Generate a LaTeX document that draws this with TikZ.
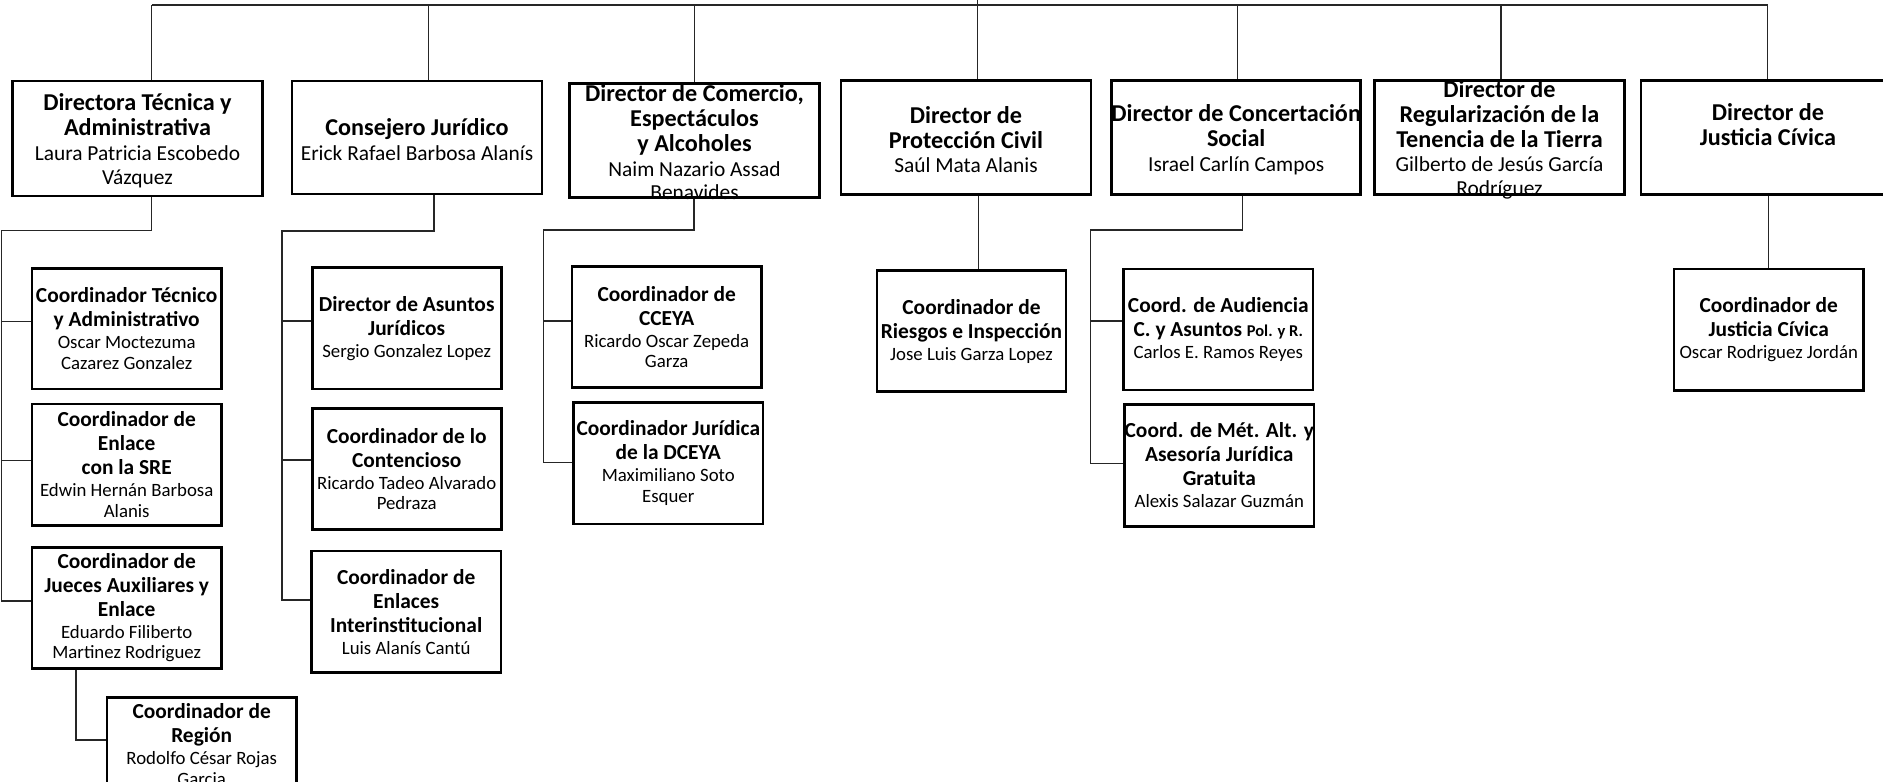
\documentclass[tikz,border=0pt]{standalone}
\usepackage{fontspec}
\setmainfont{Carlito}
\newcommand{\TT}[2]{\parbox{320pt}{\centering\fontsize{24.2}{25}\selectfont\bfseries #1\par\vspace{1.5pt}\fontsize{21.4}{23.3}\selectfont\mdseries #2\par}}
\newcommand{\ST}[2]{\parbox{320pt}{\centering\fontsize{21.4}{24}\selectfont\bfseries #1\par\vspace{1.5pt}\fontsize{18.8}{20.5}\selectfont\mdseries #2\par}}
\begin{document}
\begin{tikzpicture}[x=1pt,y=-1pt,
  box/.style={draw=black, line width=2.6pt, inner sep=0pt, fill=white},
  txt/.style={inner sep=0pt},
  ttxt/.style={inner sep=0pt, yshift=-2.2pt},
  conn/.style={draw=black!85, line width=1.3pt}]
\useasboundingbox (0,0) rectangle (1883,782);
\clip (0,0) rectangle (1883,782);
\fill[white] (0,0) rectangle (1883,782);
% ---- top level boxes
\node[box, minimum width=250pt, minimum height=115pt] (dt) at (137.5,138.5) {};
\node[box, minimum width=250pt, minimum height=113pt] (cj) at (417,137.5) {};
\node[box, minimum width=250pt, minimum height=114pt] (com) at (694.5,140.3) {};
\node[box, minimum width=250pt, minimum height=114pt] (pc) at (966,137.3) {};
\node[box, minimum width=249pt, minimum height=114pt] (conc) at (1236.2,137.3) {};
\node[box, minimum width=250pt, minimum height=114pt] (reg) at (1499.5,137.3) {};
\node[box, minimum width=254pt, minimum height=114pt] (just) at (1768,137.3) {};
% ---- second level boxes
\node[box, minimum width=189.4pt, minimum height=120.7pt] (cta) at (126.7,328.7) {};
\node[box, minimum width=189.4pt, minimum height=121.3pt] (ce) at (126.7,464.7) {};
\node[box, minimum width=189.4pt, minimum height=121pt] (jue) at (126.7,607.8) {};
\node[box, minimum width=189.3pt, minimum height=93.3pt] (regn) at (201.7,744.4) {};
\node[box, minimum width=189pt, minimum height=121.3pt] (daj) at (406.7,328.4) {};
\node[box, minimum width=189pt, minimum height=120.6pt] (cc) at (406.7,469) {};
\node[box, minimum width=189.7pt, minimum height=121.3pt] (ei) at (406.2,611.7) {};
\node[box, minimum width=189.8pt, minimum height=121pt] (cceya) at (666.7,327.2) {};
\node[box, minimum width=189.4pt, minimum height=121.7pt] (cjd) at (668.3,463.2) {};
\node[box, minimum width=189pt, minimum height=121pt] (rie) at (971.5,331.2) {};
\node[box, minimum width=189.5pt, minimum height=121pt] (aud) at (1218.3,329.5) {};
\node[box, minimum width=189.5pt, minimum height=122pt] (met) at (1219.3,465.3) {};
\node[box, minimum width=189.4pt, minimum height=121.7pt] (cjc) at (1768.7,329.9) {};
% ---- texts
\node[ttxt] (dt-t) at (dt) {\TT{Directora Técnica y\\Administrativa}{Laura Patricia Escobedo\\Vázquez}};
\node[ttxt] (cj-t) at (cj) {\TT{Consejero Jurídico}{Erick Rafael Barbosa Alanís}};
\node[ttxt] (com-t) at (com) {\TT{Director de Comercio,\\Espectáculos\\y Alcoholes}{Naim Nazario Assad\\Benavides}};
\node[ttxt] (pc-t) at (pc) {\TT{Director de\\Protección Civil}{Saúl Mata Alanis}};
\node[ttxt] (conc-t) at (conc) {\TT{Director de Concertación\\Social}{Israel Carlín Campos}};
\node[ttxt] (reg-t) at (reg) {\TT{Director de\\Regularización de la\\Tenencia de la Tierra}{Gilberto de Jesús García\\Rodríguez}};
\node[txt] (just-t) at (just) {\TT{Director de\\Justicia Cívica}{\mbox{}}};
\node[txt] (cta-t) at (cta) {\ST{Coordinador Técnico\\y Administrativo}{Oscar Moctezuma\\Cazarez Gonzalez}};
\node[txt] (ce-t) at (ce) {\ST{Coordinador de\\Enlace\\con la SRE}{Edwin Hernán Barbosa\\Alanis}};
\node[txt] (jue-t) at (jue) {\ST{Coordinador de\\Jueces Auxiliares y\\Enlace}{Eduardo Filiberto\\Martinez Rodriguez}};
\node[txt] (regn-t) at (regn) {\ST{Coordinador de\\Región}{Rodolfo César Rojas\\Garcia}};
\node[txt] (daj-t) at (daj) {\ST{Director de Asuntos\\Jurídicos}{Sergio Gonzalez Lopez}};
\node[txt] (cc-t) at (cc) {\ST{Coordinador de lo\\Contencioso}{Ricardo Tadeo Alvarado\\Pedraza}};
\node[txt] (ei-t) at (ei) {\ST{Coordinador de\\Enlaces\\Interinstitucional}{Luis Alanís Cantú}};
\node[txt] (cceya-t) at (cceya) {\ST{Coordinador de\\CCEYA}{Ricardo Oscar Zepeda\\Garza}};
\node[txt] (cjd-t) at (cjd) {\ST{Coordinador Jurídica\\de la DCEYA}{Maximiliano Soto\\Esquer}};
\node[txt] (rie-t) at (rie) {\ST{Coordinador de\\Riesgos e Inspección}{Jose Luis Garza Lopez}};
\node[txt] (aud-t) at (aud) {\ST{Coord. de Audiencia\\C. y Asuntos {\fontsize{16.5}{20}\selectfont Pol. y R.}}{Carlos E. Ramos Reyes}};
\node[txt] (met-t) at (met) {\ST{Coord. de Mét. Alt. y\\Asesoría Jurídica\\Gratuita}{Alexis Salazar Guzmán}};
\node[txt] (cjc-t) at (cjc) {\ST{Coordinador de\\Justicia Cívica}{Oscar Rodriguez Jordán}};
% ---- root bus
\coordinate (root) at (977.6,-5);
\coordinate (busL) at (151.8,5);
\coordinate (busR) at (1767.7,5);
\coordinate (v2) at (428.6,5);
\coordinate (v3) at (694.6,5);
\coordinate (v4) at (977.6,5);
\coordinate (v5) at (1237.7,5);
\coordinate (v6) at (1500.9,5);
\draw[conn] (busL) -- (busR);
\draw[conn] (root) -- (v4);
\draw[conn] (busL) -- (busL |- dt.north);
\draw[conn] (v2) -- (v2 |- cj.north);
\draw[conn] (v3) -- (v3 |- com.north);
\draw[conn] (v4) -- (v4 |- pc.north);
\draw[conn] (v5) -- (v5 |- conc.north);
\draw[conn] (v6) -- (v6 |- reg.north);
\draw[conn] (busR) -- (busR |- just.north);
% ---- Directora branch
\coordinate (dtb) at (1.8,230.7);
\draw[conn] (dt.south -| busL) |- (dtb) -- (dtb |- 0,601) -- (jue.west |- 0,601);
\draw[conn] (dtb |- 0,321.7) -- (cta.west |- 0,321.7);
\draw[conn] (dtb |- 0,460.7) -- (ce.west |- 0,460.7);
\coordinate (jx) at (76,0);
\draw[conn] (jue.south -| jx) |- (regn.west |- 0,740);
% ---- Consejero branch
\coordinate (cjx) at (434,0);
\coordinate (cjb) at (282,231);
\draw[conn] (cj.south -| cjx) |- (cjb) -- (cjb |- 0,600) -- (ei.west |- 0,600);
\draw[conn] (cjb |- 0,321) -- (daj.west |- 0,321);
\draw[conn] (cjb |- 0,460) -- (cc.west |- 0,460);
% ---- Comercio branch
\coordinate (comx) at (694,0);
\coordinate (comb) at (543.5,230);
\draw[conn] (com.south -| comx) |- (comb) -- (comb |- 0,462.3) -- (cjd.west |- 0,462.3);
\draw[conn] (comb |- 0,321) -- (cceya.west |- 0,321);
% ---- Proteccion Civil
\coordinate (pcx) at (978.6,0);
\draw[conn] (pc.south -| pcx) -- (rie.north -| pcx);
% ---- Concertacion branch
\coordinate (concx) at (1242.8,0);
\coordinate (concb) at (1090.2,230);
\draw[conn] (conc.south -| concx) |- (concb) -- (concb |- 0,463.3) -- (met.west |- 0,463.3);
\draw[conn] (concb |- 0,321) -- (aud.west |- 0,321);
% ---- Justicia
\coordinate (jcx) at (1768.6,0);
\draw[conn] (just.south -| jcx) -- (cjc.north -| jcx);
\end{tikzpicture}
\end{document}
